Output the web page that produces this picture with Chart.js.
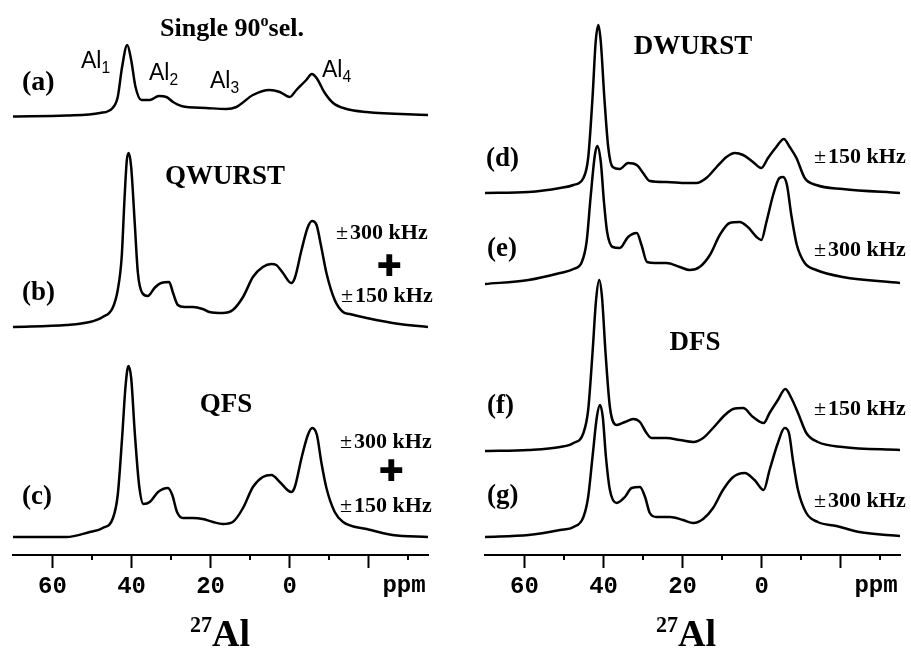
<!DOCTYPE html>
<html>
<head>
<meta charset="utf-8">
<script src="https://cdn.jsdelivr.net/npm/chart.js@4/dist/chart.umd.min.js"></script>
<style>
  body { margin: 0; background: #fff; width: 911px; height: 650px; position: relative; overflow: hidden; }
  canvas { position: absolute; top: 0; }
  #left { left: 0; }
  #right { left: 455px; }
  .note { position: absolute; white-space: nowrap; color: #000; line-height: 1; }
</style>
</head>
<body>
<canvas id="left" width="455" height="650"></canvas>
<canvas id="right" width="456" height="650"></canvas>
<script>
// x axis (ppm, reversed)
const xMin = -35, xMax = 70;
const majorTicks = [60, 40, 20, 0, -20];
const majorLabels = ['60', '40', '20', '0', ''];
const minorTicks = [50, 30, 10, -10, -30];

// (a) single 90 sel.
const aPpm = [70, 56.5, 48, 44.8, 43.5, 42.4, 41.1, 40.1, 39, 37.5, 35.4, 33.1, 31.2, 29.5, 27.4, 21.1, 16, 13.5, 9.3, 5.1, 2.5, 0, -1.7, -4.2, -5.6, -6.8, -8.9, -11, -14.4, -19.4, -35];
const aInt = [-1.5, -0.5, 2, 7, 18, 48, 70, 55, 28, 15, 15, 19, 18, 13, 9, 7, 6, 8, 20, 25, 23, 18, 25, 35, 41, 37, 22, 12, 6, 3, 0];
// (b) QWURST
const bPpm = [70, 56.5, 50.6, 47.3, 44.8, 43.5, 42.5, 41.8, 41.2, 40.7, 40.1, 39.2, 38.4, 37.3, 35.9, 34.2, 32.5, 30.5, 29.5, 28.3, 26.6, 24.5, 22, 20.3, 16.9, 14.4, 11.8, 9.3, 6.8, 4.6, 3.4, 1.7, -0.4, -1.3, -3, -4.6, -5.7, -6.8, -8, -9.3, -11.4, -13.5, -15.2, -19.5, -27.8, -35];
const bInt = [-2, 0, 3, 8, 17, 35, 68, 125, 165, 172, 158, 102, 52, 32, 29, 37, 42, 43, 32, 20, 18, 18, 16, 13, 12, 15, 28, 48, 58, 61, 60, 52, 42, 47, 75, 98, 104, 100, 78, 52, 25, 13, 11, 7, 1, -2];
// (c) QFS
const cPpm = [70, 56.5, 50.6, 47.3, 44.7, 43.5, 42.4, 41.5, 40.8, 40.1, 39.2, 38.1, 37, 35.4, 33.3, 30.8, 29.7, 28.5, 27, 24.5, 22, 19.4, 16.9, 14.4, 11.8, 9.3, 6.8, 4.6, 2.5, -0.4, -1.3, -3, -4.6, -5.7, -6.9, -8, -9.3, -11.4, -13.5, -19.5, -26, -35];
const cInt = [0, 0, 5, 9, 19, 42, 99, 152, 171, 159, 105, 52, 33, 35, 45, 49, 42, 25, 19, 19, 18, 15, 13, 15, 29, 50, 60, 62, 55, 45, 50, 79, 102, 109, 102, 75, 49, 25, 15, 8, 2, 0];
// (d) DWURST +-150 kHz
const dPpm = [70, 59, 51, 47.6, 45.1, 43.9, 42.8, 42, 41.3, 40.7, 39.8, 38.8, 37.7, 35.9, 33.8, 31.6, 30, 28.3, 24.1, 19, 16.5, 14, 11.4, 8.9, 6.8, 4.7, 2.2, 0.1, -1.6, -3.7, -5.6, -7.1, -8.8, -10.9, -13.8, -20.5, -35];
const dInt = [0, 1, 5, 8, 15, 35, 95, 151, 168, 151, 95, 45, 26, 24, 30, 28, 20, 12, 11, 10, 10, 15, 26, 36, 40, 38, 31, 25, 35, 46, 54, 46, 35, 15, 8, 4, 0];
// (e) DWURST +-300 kHz
const ePpm = [70, 59, 51, 47.6, 45.5, 44.3, 43.3, 42.2, 41.6, 40.7, 39.9, 39.1, 37.7, 35.9, 33.8, 31.6, 30.4, 29, 27, 24.1, 20.7, 18.2, 15.7, 13.1, 10.6, 8.1, 5.6, 3.5, 1.3, 0.1, -1.2, -2.9, -4.5, -5.4, -6.4, -7.5, -8.9, -10.9, -13.8, -20.5, -35];
const eInt = [-1, 3, 10, 14, 21, 41, 85, 128, 137, 121, 81, 51, 36, 35, 46, 50, 38, 21, 20, 20, 16, 13, 16, 28, 48, 60, 61, 56, 46, 43, 61, 88, 105, 106, 98, 68, 38, 20, 13, 6, 0];
// (f) DFS +-150 kHz
const fPpm = [70, 59, 51, 47.6, 45.1, 43.9, 42.8, 41.9, 41.1, 40.4, 39.5, 38.4, 36.7, 34.6, 32.5, 30.8, 29.3, 27.9, 24.1, 20.7, 17.3, 14.8, 12.3, 9.3, 7.2, 4.7, 2.2, -0.5, -2, -4.1, -6, -7.5, -9.2, -11.3, -14.2, -20.5, -35];
const fInt = [-1, 0, 3, 7, 17, 40, 97, 150, 170, 153, 97, 43, 25, 28, 31, 28, 18, 12, 12, 10, 8, 12, 22, 35, 41, 42, 33, 27, 37, 50, 61, 52, 37, 17, 8, 3, 0];
// (g) DFS +-300 kHz
const gPpm = [70, 59, 51, 47.6, 45.1, 43.9, 42.8, 41.7, 40.9, 40.2, 39.4, 38.4, 36.7, 34.6, 32.9, 30.8, 29.5, 28.3, 26.6, 23.2, 19.9, 17.3, 14.8, 12.3, 9.8, 7.2, 4.3, 1.8, -0.5, -2, -4.1, -5.8, -6.9, -7.9, -9.2, -11.3, -14.2, -18.9, -24.7, -35];
const gInt = [-1, 1, 6, 9, 19, 39, 79, 119, 131, 119, 79, 46, 33, 39, 48, 49, 39, 23, 19, 19, 16, 13, 17, 28, 46, 59, 63, 56, 46, 66, 93, 108, 103, 76, 46, 23, 14, 10, 4, 0];

// vertical stacking offsets (same units as intensity)
const leftOffsets = [440, 230, 18];
const rightOffsets = [362, 272, 105, 19];
const yTop = 555;

function spectrum(ppm, amp, base) {
  return ppm.map((x, i) => ({ x, y: amp[i] + base }));
}

const minorTickPlugin = {
  id: 'minorTicks',
  afterDraw(chart) {
    const s = chart.scales.x, ctx = chart.ctx;
    ctx.save();
    ctx.strokeStyle = '#000';
    ctx.lineWidth = 2;
    minorTicks.forEach(v => {
      const px = Math.round(s.getPixelForValue(v));
      ctx.beginPath();
      ctx.moveTo(px, s.top);
      ctx.lineTo(px, s.top + 5);
      ctx.stroke();
    });
    ctx.restore();
  }
};

function makeChart(id, sets, padL, padR) {
  return new Chart(document.getElementById(id), {
    type: 'line',
    data: {
      datasets: sets.map(d => ({
        data: d, borderColor: '#000', borderWidth: 2.5, pointRadius: 0,
        cubicInterpolationMode: 'monotone', fill: false
      }))
    },
    options: {
      responsive: false, animation: false, devicePixelRatio: 1,
      layout: { padding: { left: padL, right: padR, top: 0, bottom: 0 } },
      plugins: { legend: { display: false }, tooltip: { enabled: false } },
      scales: {
        x: {
          type: 'linear', min: xMin, max: xMax, reverse: true,
          afterBuildTicks: s => { s.ticks = majorTicks.map(v => ({ value: v })); },
          afterFit: s => { s.height = 95; },
          ticks: {
            callback: v => majorLabels[majorTicks.indexOf(v)],
            font: { family: 'Liberation Mono', size: 24, weight: 'bold' },
            color: '#000', padding: 5, maxRotation: 0, autoSkip: false
          },
          grid: { drawOnChartArea: false, tickLength: 13, tickWidth: 2, tickColor: '#000' },
          border: { display: true, color: '#000', width: 2 }
        },
        y: { display: false, min: 0, max: yTop }
      }
    },
    plugins: [minorTickPlugin]
  });
}

makeChart('left', [
  spectrum(aPpm, aInt, leftOffsets[0]),
  spectrum(bPpm, bInt, leftOffsets[1]),
  spectrum(cPpm, cInt, leftOffsets[2])
], 13, 27);

makeChart('right', [
  spectrum(dPpm, dInt, rightOffsets[0]),
  spectrum(ePpm, eInt, rightOffsets[1]),
  spectrum(fPpm, fInt, rightOffsets[2]),
  spectrum(gPpm, gInt, rightOffsets[3])
], 30, 11);

// text annotations; x = anchor, base = text baseline
function note(html, x, base, size, align, family, weight) {
  const el = document.createElement('div');
  el.className = 'note';
  el.innerHTML = html;
  el.style.fontSize = size + 'px';
  el.style.fontFamily = family || 'Liberation Serif';
  el.style.fontWeight = weight || 'bold';
  el.style.top = (base - 0.84 * size) + 'px';
  el.style.left = x + 'px';
  if (align === 'center') el.style.transform = 'translateX(-50%)';
  document.body.appendChild(el);
}
const pm = '<span style="font-weight:normal;margin-right:2px">±</span>';
const sub = n => 'Al<span style="font-size:0.68em;position:relative;top:0.35em">' + n + '</span>';
const isotope = '<span style="font-size:0.58em;position:relative;top:-0.62em">27</span>Al';

note('Single 90<span style="font-size:0.62em;position:relative;top:-0.62em">o</span>sel.', 232, 37, 26, 'center');
note('(a)', 22, 91, 28);
note(sub(1), 81, 68, 23, 'left', 'Liberation Sans', 'normal');
note(sub(2), 149, 80, 23, 'left', 'Liberation Sans', 'normal');
note(sub(3), 210, 88, 23, 'left', 'Liberation Sans', 'normal');
note(sub(4), 322, 77, 23, 'left', 'Liberation Sans', 'normal');

note('QWURST', 225, 185, 27, 'center');
note('(b)', 22, 301, 27);
note(pm + '300 kHz', 336, 239, 22);
note('✚', 389, 276, 30, 'center', 'DejaVu Sans', 'normal');
note(pm + '150 kHz', 341, 302, 22);

note('QFS', 226, 413, 27, 'center');
note('(c)', 22, 505, 27);
note(pm + '300 kHz', 340, 448, 22);
note('✚', 391, 481, 30, 'center', 'DejaVu Sans', 'normal');
note(pm + '150 kHz', 340, 512, 22);

note('ppm', 404, 594, 24, 'center', 'Liberation Mono');
note(isotope, 220, 646, 38, 'center');

note('DWURST', 693, 55, 27, 'center');
note('(d)', 486, 167, 27);
note(pm + '150 kHz', 814, 163, 22);
note('(e)', 487, 257, 27);
note(pm + '300 kHz', 814, 256, 22);

note('DFS', 695, 351, 27, 'center');
note('(f)', 487, 414, 27);
note(pm + '150 kHz', 814, 415, 22);
note('(g)', 487, 504, 27);
note(pm + '300 kHz', 814, 507, 22);

note('ppm', 876, 594, 24, 'center', 'Liberation Mono');
note(isotope, 686, 646, 38, 'center');
</script>
</body>
</html>
